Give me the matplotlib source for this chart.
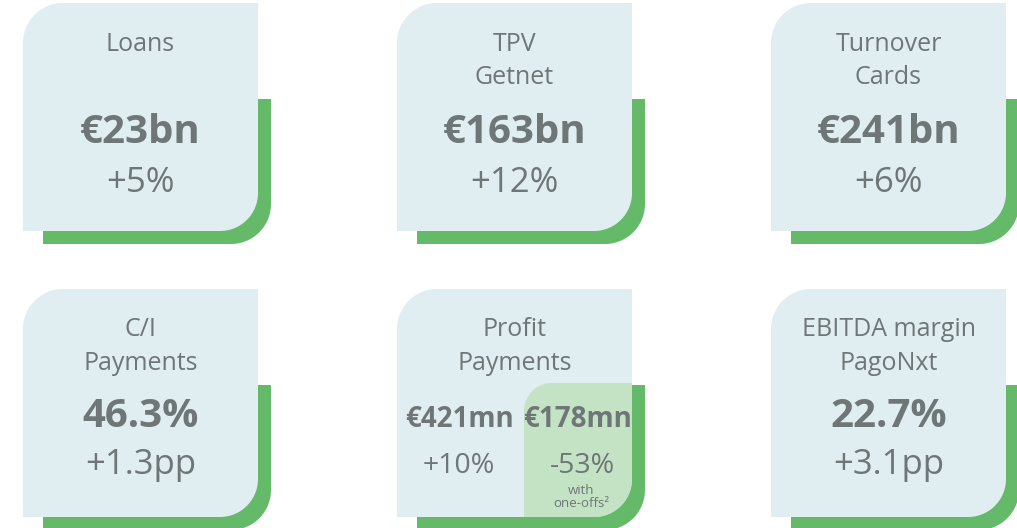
import numpy as np
import matplotlib.pyplot as plt
from matplotlib.path import Path
from matplotlib.patches import PathPatch

plt.rcParams['font.family'] = ['Open Sans', 'DejaVu Sans']

# card contents, left to right, top to bottom
titles = [["Loans"], ["TPV", "Getnet"], ["Turnover", "Cards"],
          ["C/I", "Payments"], ["Profit", "Payments"], ["EBITDA margin", "PagoNxt"]]
values = ["€23bn", "€163bn", "€241bn", "46.3%", None, "22.7%"]
changes = ["+5%", "+12%", "+6%", "+1.3pp", None, "+3.1pp"]

# the split profit card
profit_values = ["€421mn", "€178mn"]
profit_changes = ["+10%", "-53%"]
profit_note = ["with", "one-offs²"]

BOX = "#e0edf1"
GREEN = "#64ba69"
LIGHT_GREEN = "#c4e3c4"
TEXT = "#6e7678"


def shape(x0, y0, x1, y1, r_tl, r_br, n=30):
    # rectangle with rounded top-left and bottom-right corners (y grows downward)
    pts = []
    t = np.linspace(np.pi, 1.5 * np.pi, n)
    pts += list(zip(x0 + r_tl + r_tl * np.cos(t), y0 + r_tl + r_tl * np.sin(t)))
    pts.append((x1, y0))
    t = np.linspace(0, 0.5 * np.pi, n)
    pts += list(zip(x1 - r_br + r_br * np.cos(t), y1 - r_br + r_br * np.sin(t)))
    pts.append((x0, y1))
    pts.append(pts[0])
    codes = [Path.MOVETO] + [Path.LINETO] * (len(pts) - 2) + [Path.CLOSEPOLY]
    return Path(pts, codes)


fig = plt.figure(figsize=(10.17, 5.28), dpi=100)
ax = fig.add_axes([0, 0, 1, 1])
ax.set_xlim(0, 1017)
ax.set_ylim(528, 0)
ax.axis("off")

col_x = [23, 397, 771]
row_y = [3, 289]
w, h = 235, 228

for i in range(6):
    x0 = col_x[i % 3]
    y0 = row_y[i // 3]
    cx = x0 + w / 2
    # green shadow then the card
    ax.add_patch(PathPatch(shape(x0 + 20, y0 + 96, x0 + w + 13, y0 + h + 13, 0, 40),
                           fc=GREEN, ec="none"))
    ax.add_patch(PathPatch(shape(x0, y0, x0 + w, y0 + h, 40, 38), fc=BOX, ec="none"))

    if i // 3 == 0:
        base = [y0 + 48, y0 + 81]
        vy, chy = y0 + 140, y0 + 189
    else:
        base = [y0 + 47, y0 + 81]
        vy, chy = y0 + 138, y0 + 185
    for line, by in zip(titles[i], base):
        ax.text(cx, by, line, ha="center", va="baseline", fontsize=18, color=TEXT)

    if values[i] is not None:
        ax.text(cx, vy, values[i], ha="center", va="baseline", fontsize=29,
                fontweight="bold", color=TEXT)
        ax.text(cx, chy, changes[i], ha="center", va="baseline", fontsize=25, color=TEXT)
    else:
        # highlighted right half for the one-offs figure
        ax.add_patch(PathPatch(shape(x0 + 127, y0 + 94, x0 + w, y0 + h, 28, 38),
                               fc=LIGHT_GREEN, ec="none"))
        for k, dx in enumerate([63, 181]):
            ax.text(x0 + dx, y0 + 138, profit_values[k], ha="center", va="baseline",
                    fontsize=20, fontweight="bold", color=TEXT)
        for k, dx in enumerate([62, 185]):
            ax.text(x0 + dx, y0 + 184, profit_changes[k], ha="center", va="baseline",
                    fontsize=20.5, color=TEXT)
        ax.text(x0 + 184, y0 + 205, profit_note[0], ha="center", va="baseline",
                fontsize=9.5, color=TEXT)
        ax.text(x0 + 184, y0 + 218, profit_note[1], ha="center", va="baseline",
                fontsize=9.5, color=TEXT)

fig.savefig("out.png", dpi=100)
